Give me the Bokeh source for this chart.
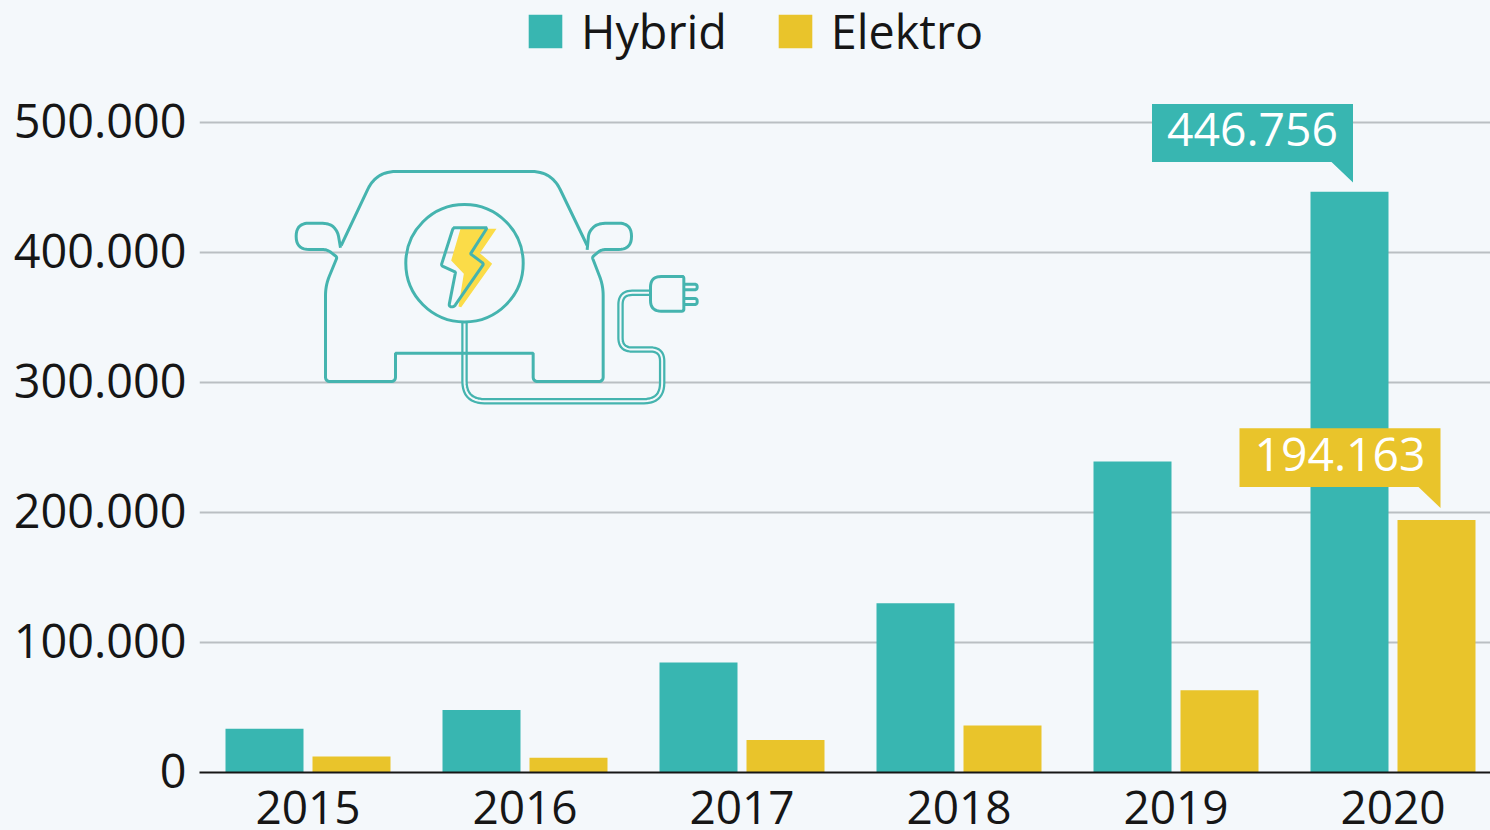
from bokeh.plotting import figure
from bokeh.embed import file_html
from bokeh.resources import INLINE
from bokeh.models import Range1d, LinearScale, FixedTicker, Legend, LegendItem
from bokeh.core.properties import value
import numpy as np

years = ["2015", "2016", "2017", "2018", "2019", "2020"]
hybrid = [33630, 47996, 84675, 130258, 239250, 446756]
elektro = [12363, 11410, 25056, 36062, 63281, 194163]
y_ticks = [0, 100000, 200000, 300000, 400000, 500000]
y_labels = ["0", "100.000", "200.000", "300.000", "400.000", "500.000"]
callout_hybrid = "446.756"
callout_elektro = "194.163"

BG = "#f4f8fb"
TEAL = "#38b6b1"
YELLOW = "#e9c42b"
STROKE = "#45b4af"
BOLT = "#fbdc48"
INK = "#161616"
GRID = "#babfc3"
FONT = "Open Sans"

W, H = 1490, 830
LEFT, BOTTOM = 199, 58
FRAME_H = H - BOTTOM
x_center0, x_step = 307.5, 217.0
Y_TOP = FRAME_H / 650 * 500000
LABEL_LIFT = 2 / 650 * 500000  # y labels sit 2px above their gridlines

p = figure(width=W, height=H, output_backend="svg", toolbar_location=None,
           x_range=Range1d((LEFT - x_center0) / x_step, (W - x_center0) / x_step),
           y_range=Range1d(0, Y_TOP),
           min_border_left=LEFT, min_border_bottom=BOTTOM, min_border_top=0, min_border_right=0)
p.background_fill_color = BG
p.border_fill_color = BG
p.outline_line_color = None

# pixel-space ranges for the decoration (icon, callouts)
p.extra_x_ranges = {"px": Range1d(LEFT, W)}
p.extra_y_ranges = {"px": Range1d(FRAME_H, 0), "ylab": Range1d(-LABEL_LIFT, Y_TOP - LABEL_LIFT)}
p.extra_x_scales = {"px": LinearScale()}
p.extra_y_scales = {"px": LinearScale(), "ylab": LinearScale()}
PX = dict(x_range_name="px", y_range_name="px")

# axes
p.xgrid.visible = False
p.ygrid.ticker = FixedTicker(ticks=y_ticks[1:])
p.ygrid.grid_line_color = GRID
p.ygrid.grid_line_width = 2

ya = p.yaxis[0]
ya.y_range_name = "ylab"
ya.ticker = FixedTicker(ticks=y_ticks)
ya.major_label_overrides = {t: l for t, l in zip(y_ticks, y_labels)}
ya.axis_line_color = None
ya.major_tick_line_color = None
ya.minor_tick_line_color = None
ya.major_label_text_font = FONT
ya.major_label_text_font_size = "46.8px"
ya.major_label_text_color = INK
ya.major_label_standoff = 7

xa = p.xaxis[0]
xa.ticker = FixedTicker(ticks=list(range(len(years))))
xa.major_label_overrides = {i: y for i, y in enumerate(years)}
xa.axis_line_color = INK
xa.axis_line_width = 2
xa.major_tick_line_color = None
xa.minor_tick_line_color = None
xa.major_label_text_font = FONT
xa.major_label_text_font_size = "46px"
xa.major_label_text_color = INK
xa.major_label_standoff = 12

# bars
idx = np.arange(len(years))
offset, bar_w = 43.5 / x_step, 78 / x_step
r_h = p.vbar(x=idx - offset, top=hybrid, width=bar_w, color=TEAL, line_color=None)
r_e = p.vbar(x=idx + offset, top=elektro, width=bar_w, color=YELLOW, line_color=None)

# legend
legend = Legend(items=[LegendItem(label="Hybrid", renderers=[r_h]),
                       LegendItem(label="Elektro", renderers=[r_e])],
                orientation="horizontal", location=(325, 709),
                background_fill_alpha=0, border_line_alpha=0, padding=0, margin=0,
                glyph_width=42, glyph_height=42, label_standoff=15, spacing=47,
                label_text_font=FONT, label_text_font_size="46.7px", label_text_color=INK)
p.add_layout(legend, "center")


# icon helpers: points are given in pixel coordinates; a third value rounds the corner
def path(points, steps=8):
    xs, ys = [], []
    n = len(points)
    for i, pt in enumerate(points):
        r = pt[2] if len(pt) > 2 else 0
        if r == 0 or i == 0 or i == n - 1:
            xs.append(pt[0]); ys.append(pt[1])
            continue
        cur = np.array(pt[:2], float)
        a = np.array(points[i - 1][:2], float)
        b = np.array(points[i + 1][:2], float)
        ua = (a - cur) / np.linalg.norm(a - cur)
        ub = (b - cur) / np.linalg.norm(b - cur)
        ra = min(r, np.linalg.norm(a - cur) / 2)
        rb = min(r, np.linalg.norm(b - cur) / 2)
        s, e = cur + ua * ra, cur + ub * rb
        for t in np.linspace(0, 1, steps):
            q = (1 - t) ** 2 * s + 2 * t * (1 - t) * cur + t ** 2 * e
            xs.append(q[0]); ys.append(q[1])
    return xs, ys


def z(zx, zy, r=0):
    return (280 + zx / 3, 160 + zy / 3, r / 3)


def z6(zx, zy, r=0):
    return (420 + zx / 3, 210 + zy / 3, r / 3)


LW = 3

# bolt
bolt_fill = [z6(120, 55), z6(228, 55), z6(178, 128), z6(215, 160), z6(122, 290, 6), z6(114, 288, 6), z6(130, 190), z6(92, 150)]
fx, fy = zip(*[q[:2] for q in bolt_fill])
p.patch(list(fx), list(fy), color=BOLT, line_color=None, **PX)
bolt_line = [z6(98, 52, 6), z6(200, 52, 6), z6(150, 130), z6(190, 160, 6), z6(100, 290, 8), z6(85, 288, 8),
             z6(105, 185), z6(62, 165, 6), z6(98, 52, 6), z6(200, 52)]
bx, by = path(bolt_line)
p.line(bx, by, line_color=STROKE, line_width=LW, **PX)

# cable (double line: a thick stroke with a background-coloured core)
cable = [z(552, 485), z(552, 722, 60), z(1145, 722, 55), z(1145, 567, 35), z(1020, 567, 35),
         z(1020, 397, 35), z(1110, 397)]
cx, cy = path(cable, 12)
p.line(cx, cy, line_color=STROKE, line_width=6.5, **PX)
p.line(cx, cy, line_color=BG, line_width=2, **PX)

# car body
car = [z(180, 262), z(172, 215, 14), z(150, 188, 30), z(47, 188, 39), z(47, 267, 39), z(140, 267, 14), z(170, 290, 6),
       z(135, 375, 30), z(135, 663, 14), z(345, 663, 14), z(345, 578), z(758, 578), z(758, 663, 14),
       z(968, 663, 14), z(968, 375, 30), z(935, 290, 6), z(962, 267, 14), z(1053, 267, 39), z(1053, 188, 39),
       z(950, 188, 30), z(925, 215, 14), z(920, 268)]
x1, y1 = path(car, 10)
p.line(x1, y1, line_color=STROKE, line_width=LW, **PX)
roof = [z(182, 255), z(287, 33, 60), z(813, 33, 60), z(920, 255)]
x2, y2 = path(roof, 14)
p.line(x2, y2, line_color=STROKE, line_width=LW, **PX)

# circle around the bolt
p.circle([464], [262.7], radius=58.7, fill_color=None, line_color=STROKE, line_width=LW, **PX)

# plug
plug = [z(1210, 348), z(1110, 348, 32), z(1110, 452, 32), z(1210, 452, 6), z(1210, 348, 6), z(1150, 348)]
x3, y3 = path(plug, 10)
p.line(x3, y3, line_color=STROKE, line_width=LW, **PX)
for y_a, y_b in ((371, 388), (414, 432)):
    prong = [z(1212, y_a), z(1250, y_a, 8), z(1250, y_b, 8), z(1212, y_b)]
    x4, y4 = path(prong, 6)
    p.line(x4, y4, line_color=STROKE, line_width=LW, **PX)


# callouts
def callout(left, right, top, bottom, tail_x, tip_y, colour, label, tx, ty):
    p.patch([left, right, right, tail_x, left], [top, top, tip_y, bottom, bottom],
            color=colour, line_color=None, **PX)
    p.text([tx], [ty], text=[label], text_color="#ffffff", text_font=value(FONT), text_font_size="46.3px",
           text_align="center", text_baseline="middle", **PX)


callout(1151.5, 1352.5, 103.5, 161.5, 1331, 182, TEAL, callout_hybrid, 1252, 129)
callout(1239, 1440, 427.7, 486.5, 1418, 507.5, YELLOW, callout_elektro, 1339.5, 453.5)

html = file_html(p, INLINE)
html = html.replace("<head>", "<head><style>html,body{margin:0;padding:0;background:%s;overflow:hidden}</style>" % BG, 1)
open("out.html", "w").write(html)
